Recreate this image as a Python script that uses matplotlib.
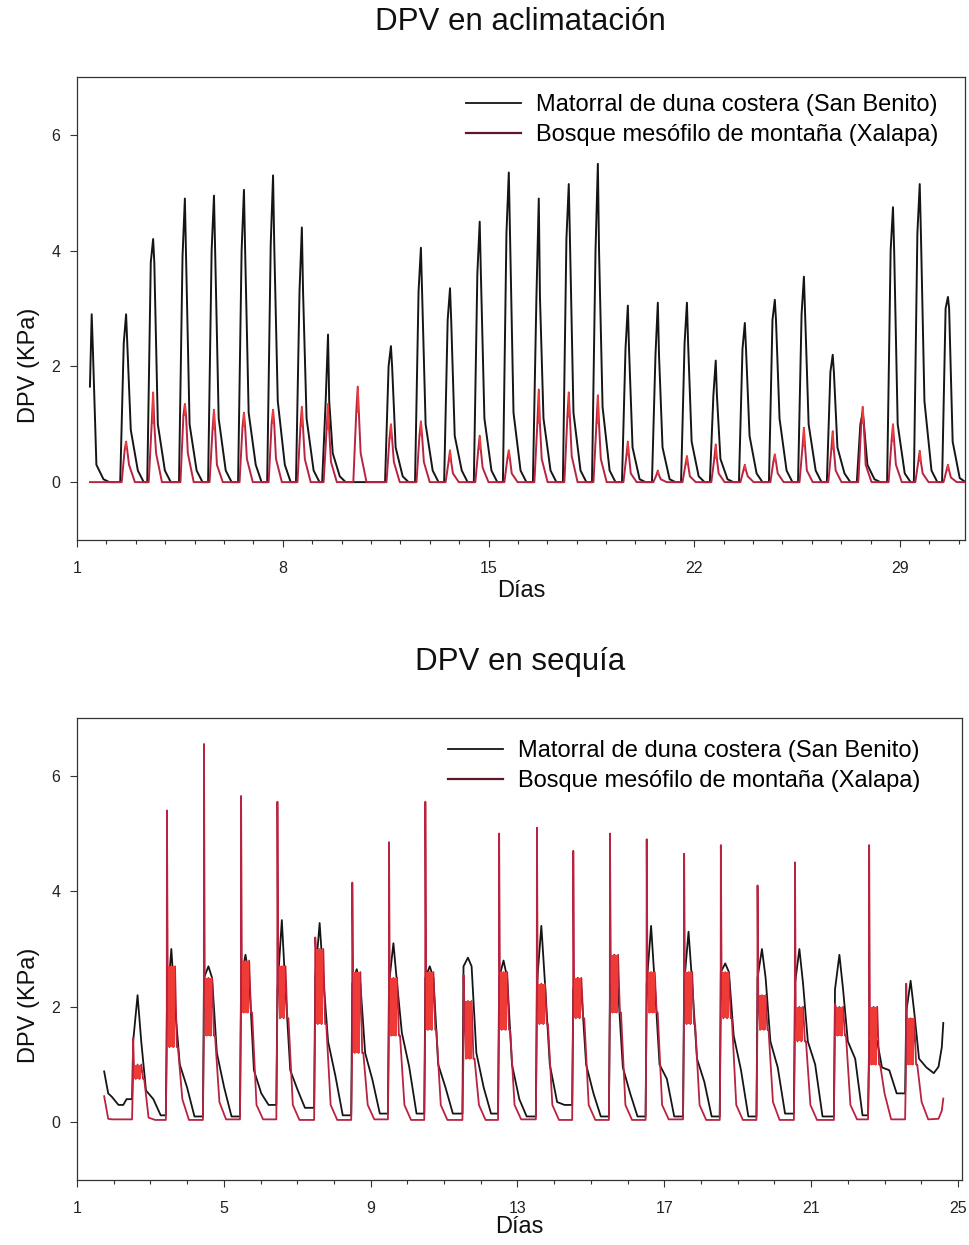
import numpy as np
import matplotlib
matplotlib.use('Agg')
import matplotlib.pyplot as plt
from matplotlib.lines import Line2D
from matplotlib.ticker import MultipleLocator

plt.rcParams['font.family'] = ['Liberation Sans', 'DejaVu Sans']

NEGRO = '#151515'
ROJO = '#b82340'
ROJO_VIVO = '#ef3b36'
GUINDA = '#5e1727'
EJE = '#333333'

etiquetas = ['Matorral de duna costera (San Benito)', 'Bosque mesófilo de montaña (Xalapa)']

# ---------------- DPV en aclimatación (one peak per day) ----------------
dias_a = [1.50, 2.67, 3.59, 4.67, 5.66, 6.68, 7.67, 8.65, 9.54, 10.55, 11.68,
          12.70, 13.69, 14.70, 15.69, 16.71, 17.73, 18.72, 19.74, 20.76, 21.75,
          22.73, 23.72, 24.74, 25.73, 26.71, 27.73, 28.76, 29.67, 30.63, 31.45]
neg_pico_a = [2.9, 2.9, 4.2, 4.9, 4.95, 5.05, 5.3, 4.4, 2.55, 0.0, 2.35,
              4.05, 3.35, 4.5, 5.35, 4.9, 5.15, 5.5, 3.05, 3.1, 3.1,
              2.1, 2.75, 3.15, 3.55, 2.2, 1.2, 4.75, 5.15, 3.2, 2.6]
neg_hombro_a = [2.3, 2.4, 3.8, 3.9, 4.0, 4.0, 4.1, 3.3, 1.4, 0.0, 2.0,
                3.3, 2.8, 3.6, 4.3, 3.2, 4.2, 4.0, 2.3, 2.2, 2.4,
                1.5, 2.3, 2.8, 2.9, 1.9, 1.0, 4.0, 4.3, 3.0, 2.0]
neg_tarde_a = [0.3, 0.9, 1.0, 1.0, 1.1, 1.2, 1.4, 1.1, 0.5, 0.0, 0.6,
               1.0, 0.8, 1.1, 1.2, 1.1, 1.2, 1.3, 0.6, 0.6, 0.7,
               0.4, 0.8, 1.1, 1.0, 0.6, 0.3, 1.0, 1.4, 0.7, 0.5]
neg_noche_a = [0.05, 0.2, 0.2, 0.2, 0.2, 0.3, 0.3, 0.2, 0.1, 0.0, 0.1,
               0.2, 0.2, 0.2, 0.2, 0.2, 0.2, 0.2, 0.05, 0.05, 0.1,
               0.05, 0.15, 0.2, 0.2, 0.15, 0.05, 0.15, 0.2, 0.07, 0.1]
roj_pico_a = [0.0, 0.7, 1.55, 1.35, 1.25, 1.2, 1.25, 1.3, 1.35, 1.65, 1.0,
              1.05, 0.55, 0.8, 0.55, 1.6, 1.55, 1.5, 0.7, 0.2, 0.45,
              0.65, 0.3, 0.48, 0.94, 0.88, 1.3, 1.0, 0.54, 0.3, 0.0]
roj_hombro_a = [0.0, 0.55, 1.0, 1.15, 0.9, 0.95, 1.0, 0.95, 0.9, 1.2, 0.75,
                0.8, 0.35, 0.55, 0.4, 1.0, 1.1, 1.0, 0.45, 0.12, 0.3,
                0.4, 0.2, 0.35, 0.6, 0.55, 1.0, 0.7, 0.35, 0.2, 0.0]
roj_tarde_a = [0.0, 0.3, 0.5, 0.5, 0.3, 0.4, 0.4, 0.4, 0.35, 0.5, 0.35,
               0.35, 0.15, 0.25, 0.15, 0.4, 0.45, 0.4, 0.15, 0.05, 0.1,
               0.15, 0.1, 0.15, 0.2, 0.2, 0.3, 0.3, 0.15, 0.08, 0.0]
inicio_a = 1.44
inicio_neg_a = 1.65

# ---------------- DPV en sequía ----------------
dias_s = [2.53, 3.45, 4.46, 5.47, 6.46, 7.49, 8.50, 9.50, 10.49, 11.53, 12.50,
          13.53, 14.52, 15.52, 16.52, 17.54, 18.54, 19.54, 20.56, 21.65, 22.58, 23.59]
roj_pico_s = [1.45, 5.4, 6.55, 5.65, 5.55, 3.2, 4.15, 4.85, 5.55, 2.55, 5.0,
              5.1, 4.7, 5.0, 4.9, 4.65, 4.8, 4.1, 4.5, 2.05, 4.8, 2.4]
roj_baja_s = [0.75, 1.3, 1.5, 1.9, 1.8, 1.7, 1.2, 1.5, 1.6, 1.1, 1.6,
              1.7, 1.8, 1.9, 1.9, 1.7, 1.8, 1.6, 1.4, 1.5, 1.0, 1.0]
roj_alta_s = [1.0, 2.7, 2.5, 2.8, 2.7, 3.0, 2.6, 2.5, 2.6, 2.1, 2.6,
              2.4, 2.5, 2.9, 2.6, 2.6, 2.6, 2.2, 2.0, 2.0, 2.0, 1.8]
roj_tarde_s = [0.08, 0.4, 0.35, 0.3, 0.3, 0.3, 0.3, 0.3, 0.3, 0.3, 0.3,
               0.3, 0.3, 0.3, 0.3, 0.3, 0.3, 0.35, 0.3, 0.3, 0.5, 0.35]
roj_noche_s = [0.04, 0.04, 0.05, 0.05, 0.04, 0.04, 0.05, 0.04, 0.04, 0.04, 0.05,
               0.04, 0.04, 0.04, 0.05, 0.04, 0.04, 0.04, 0.04, 0.05, 0.05, 0.05]
neg_hombro_s = [1.4, 2.0, 2.5, 2.5, 2.3, 2.5, 2.4, 2.4, 2.5, 2.7, 2.5,
                2.4, 2.3, 2.3, 2.4, 2.4, 2.6, 2.5, 2.4, 2.3, 1.4, 1.9]
neg_pico_s = [2.2, 3.0, 2.7, 2.9, 3.5, 3.45, 2.65, 3.1, 2.7, 2.85, 2.8,
              3.4, 2.5, 2.9, 3.4, 3.3, 2.75, 3.0, 3.0, 2.9, 1.5, 2.45]
neg_tarde_s = [0.55, 1.0, 1.2, 0.9, 0.9, 1.4, 1.2, 1.55, 1.0, 1.2, 1.0,
               1.0, 1.0, 0.95, 1.0, 1.1, 1.5, 1.4, 1.4, 1.4, 0.95, 1.1]
neg_tarde2_s = [0.4, 0.6, 0.6, 0.5, 0.56, 0.8, 0.73, 0.96, 0.6, 0.6, 0.4,
                0.35, 0.5, 0.5, 0.75, 0.7, 0.9, 0.95, 1.0, 1.1, 0.9, 0.95]
neg_noche_s = [0.12, 0.1, 0.1, 0.3, 0.25, 0.12, 0.15, 0.15, 0.15, 0.15, 0.1,
               0.3, 0.1, 0.1, 0.1, 0.1, 0.1, 0.15, 0.1, 0.12, 0.5, 0.85]
inicio_t_s = [1.74, 1.85, 1.95, 2.13, 2.26, 2.35]
inicio_neg_s = [0.88, 0.5, 0.44, 0.3, 0.3, 0.4]
inicio_roj_s = [0.45, 0.06, 0.05, 0.05, 0.05, 0.05]
fin_t_s = [24.47, 24.56, 24.60]
fin_neg_s = [0.96, 1.3, 1.72]
fin_roj_s = [0.06, 0.2, 0.41]


def ordenar(x, y):
    x = np.asarray(x, float)
    y = np.asarray(y, float)
    i = np.argsort(x, kind='stable')
    return x[i], y[i]


# build the two aclimatación curves
xn, yn = [], []
for d, p, h, t, n in zip(dias_a, neg_pico_a, neg_hombro_a, neg_tarde_a, neg_noche_a):
    xn += [d - 0.2, d - 0.08, d, d + 0.04, d + 0.16, d + 0.4, d + 0.6]
    yn += [0, h, p, h, t, n, 0]
xn, yn = ordenar(xn, yn)
m = xn >= inicio_a
xn_a = np.r_[inicio_a, xn[m]]
yn_a = np.r_[inicio_neg_a, yn[m]]

xr, yr = [], []
for d, p, h, t in zip(dias_a, roj_pico_a, roj_hombro_a, roj_tarde_a):
    xr += [d - 0.15, d - 0.05, d, d + 0.04, d + 0.1, d + 0.3]
    yr += [0, h, p, h, t, 0]
xr, yr = ordenar(xr, yr)
m = xr >= inicio_a
xr_a = np.r_[inicio_a, xr[m]]
yr_a = np.r_[0.0, yr[m]]

# build the two sequía curves
xn, yn = list(inicio_t_s), list(inicio_neg_s)
previo = inicio_neg_s[-1]
for d, h, p, t, t2, n in zip(dias_s, neg_hombro_s, neg_pico_s, neg_tarde_s, neg_tarde2_s, neg_noche_s):
    xn += [d - 0.03, d, d + 0.12, d + 0.22, d + 0.35, d + 0.55, d + 0.75]
    yn += [previo, h, p, h, t, t2, n]
    previo = n
xn_s = np.r_[xn, fin_t_s]
yn_s = np.r_[yn, fin_neg_s]

xr, yr = list(inicio_t_s), list(inicio_roj_s)
previo = inicio_roj_s[-1]
for d, p, lo, hi, t, n in zip(dias_s, roj_pico_s, roj_baja_s, roj_alta_s, roj_tarde_s, roj_noche_s):
    xr += [d - 0.03, d - 0.005, d, d + 0.02, d + 0.07, d + 0.12, d + 0.17,
           d + 0.22, d + 0.27, d + 0.3, d + 0.42, d + 0.6]
    yr += [previo, lo, p, hi, lo, hi, lo, hi, lo, lo, t, n]
    previo = n
xr_s = np.r_[xr, fin_t_s]
yr_s = np.r_[yr, fin_roj_s]

fig = plt.figure(figsize=(9.69, 12.45), dpi=100)
ax1 = fig.add_axes([77 / 969, 1 - 540 / 1245, 888 / 969, 463 / 1245])
ax2 = fig.add_axes([77 / 969, 1 - 1180 / 1245, 885 / 969, 462 / 1245])

ax1.plot(xn_a, yn_a, color=NEGRO, lw=1.4, zorder=2)
ax1.plot(xr_a, yr_a, color=ROJO, lw=1.4, zorder=3)
for d, p, h in zip(dias_a, roj_pico_a, roj_hombro_a):
    if p > 0:
        ax1.fill_between([d - 0.03, d + 0.03], h, p, color=ROJO_VIVO, lw=0, zorder=3.5)

ax2.plot(xn_s, yn_s, color=NEGRO, lw=1.3, zorder=2)
ax2.plot(xr_s, yr_s, color=ROJO, lw=1.3, zorder=3)
for d, lo, hi in zip(dias_s, roj_baja_s, roj_alta_s):
    ax2.fill_between([d + 0.03, d + 0.22], lo, hi, color=ROJO_VIVO, lw=0, zorder=3.5)

configs = [
    (ax1, (1, 31.21), 7, 'DPV en aclimatación', 22, 938, 94, -0.086),
    (ax2, (1, 25.11), 4, 'DPV en sequía', 662, 920, 740, -0.078),
]
for ax, xlim, paso, titulo, ytit, xleg, yleg, ylab in configs:
    ax.set_xlim(*xlim)
    ax.set_ylim(-1, 7)
    ax.xaxis.set_minor_locator(MultipleLocator(1))
    ax.set_xticks(np.arange(1, xlim[1] + 0.01, paso))
    ax.set_yticks([0, 2, 4, 6])
    ax.tick_params(axis='both', which='major', direction='out', length=5, width=0.8,
                   color=EJE, labelsize=11.5, labelcolor='#222222')
    ax.tick_params(axis='x', which='major', pad=10)
    ax.tick_params(axis='y', which='major', pad=7)
    ax.tick_params(axis='x', which='minor', direction='out', length=3, width=0.8, color=EJE)
    for s in ax.spines.values():
        s.set_color(EJE)
        s.set_linewidth(0.9)
    ax.set_xlabel('Días', fontsize=17, color='#111111')
    ax.xaxis.set_label_coords(0.5, ylab)
    ax.set_ylabel('DPV (KPa)', fontsize=17, color='#111111')
    ax.yaxis.set_label_coords(-0.042, 0.378)
    fig.text(520 / 969, 1 - ytit / 1245, titulo, fontsize=22.5, ha='center', va='center',
             color='#111111')
    manejadores = [Line2D([], [], color=NEGRO, lw=1.3), Line2D([], [], color=GUINDA, lw=1.6)]
    ax.legend(manejadores, etiquetas, loc='upper right', frameon=False, fontsize=17,
              bbox_to_anchor=(xleg / 969, 1 - yleg / 1245), bbox_transform=fig.transFigure,
              borderpad=0, borderaxespad=0, handlelength=2.35, handletextpad=0.6,
              labelspacing=0.36)

fig.savefig('out.png', dpi=100)
